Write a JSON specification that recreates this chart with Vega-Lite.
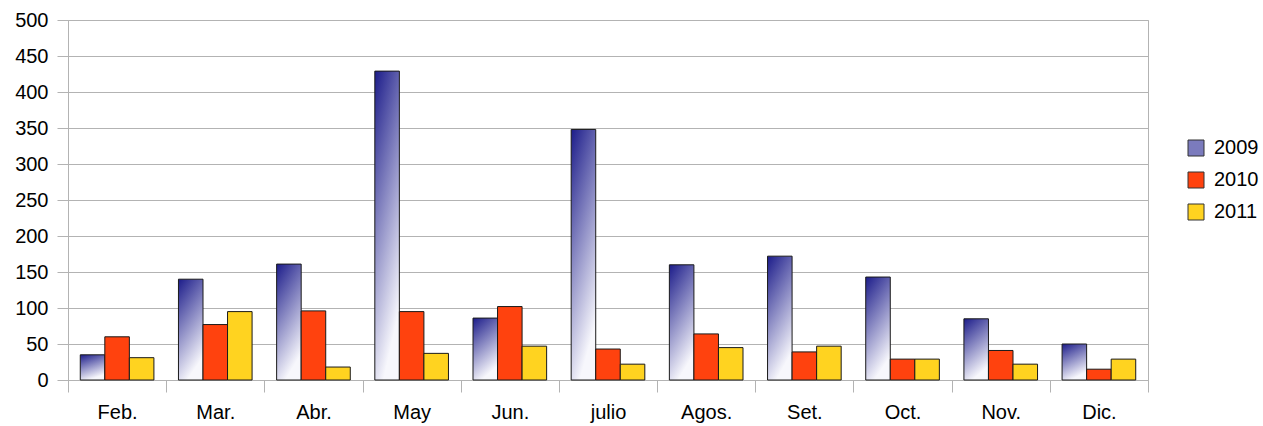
{
  "$schema": "https://vega.github.io/schema/vega-lite/v6.json",
  "autosize": "none",
  "width": 1080,
  "height": 360,
  "padding": {"left": 68, "top": 20, "right": 115, "bottom": 46},
  "background": "white",
  "config": {
    "font": "Liberation Sans",
    "view": {"stroke": "#b3b3b3", "strokeWidth": 1}
  },
  "data": {
    "values": [
      {"mes": "Feb.", "anio": "2009", "valor": 35},
      {"mes": "Feb.", "anio": "2010", "valor": 60},
      {"mes": "Feb.", "anio": "2011", "valor": 31},
      {"mes": "Mar.", "anio": "2009", "valor": 140},
      {"mes": "Mar.", "anio": "2010", "valor": 77},
      {"mes": "Mar.", "anio": "2011", "valor": 95},
      {"mes": "Abr.", "anio": "2009", "valor": 161},
      {"mes": "Abr.", "anio": "2010", "valor": 96},
      {"mes": "Abr.", "anio": "2011", "valor": 18},
      {"mes": "May", "anio": "2009", "valor": 429},
      {"mes": "May", "anio": "2010", "valor": 95},
      {"mes": "May", "anio": "2011", "valor": 37},
      {"mes": "Jun.", "anio": "2009", "valor": 86},
      {"mes": "Jun.", "anio": "2010", "valor": 102},
      {"mes": "Jun.", "anio": "2011", "valor": 47},
      {"mes": "julio", "anio": "2009", "valor": 348},
      {"mes": "julio", "anio": "2010", "valor": 43},
      {"mes": "julio", "anio": "2011", "valor": 22},
      {"mes": "Agos.", "anio": "2009", "valor": 160},
      {"mes": "Agos.", "anio": "2010", "valor": 64},
      {"mes": "Agos.", "anio": "2011", "valor": 45},
      {"mes": "Set.", "anio": "2009", "valor": 172},
      {"mes": "Set.", "anio": "2010", "valor": 39},
      {"mes": "Set.", "anio": "2011", "valor": 47},
      {"mes": "Oct.", "anio": "2009", "valor": 143},
      {"mes": "Oct.", "anio": "2010", "valor": 29},
      {"mes": "Oct.", "anio": "2011", "valor": 29},
      {"mes": "Nov.", "anio": "2009", "valor": 85},
      {"mes": "Nov.", "anio": "2010", "valor": 41},
      {"mes": "Nov.", "anio": "2011", "valor": 22},
      {"mes": "Dic.", "anio": "2009", "valor": 50},
      {"mes": "Dic.", "anio": "2010", "valor": 15},
      {"mes": "Dic.", "anio": "2011", "valor": 29}
    ]
  },
  "mark": {"type": "bar", "stroke": "#1a1a1a", "strokeWidth": 1},
  "encoding": {
    "x": {
      "field": "mes",
      "type": "nominal",
      "sort": null,
      "scale": {"paddingInner": 0, "paddingOuter": 0},
      "axis": {
        "title": null,
        "labelAngle": 0,
        "labelFontSize": 20,
        "labelColor": "#000000",
        "labelPadding": 10,
        "tickBand": "extent",
        "tickSize": 12,
        "tickColor": "#b3b3b3",
        "domainColor": "#b3b3b3",
        "grid": false
      }
    },
    "xOffset": {
      "field": "anio",
      "type": "nominal",
      "scale": {"paddingInner": 0, "paddingOuter": 0.5}
    },
    "y": {
      "field": "valor",
      "type": "quantitative",
      "scale": {"domain": [0, 500], "nice": false},
      "axis": {
        "title": null,
        "values": [0, 50, 100, 150, 200, 250, 300, 350, 400, 450, 500],
        "labelFontSize": 20,
        "labelColor": "#000000",
        "labelPadding": 9,
        "tickSize": 11,
        "tickColor": "#b3b3b3",
        "domainColor": "#b3b3b3",
        "gridColor": "#b3b3b3",
        "gridOpacity": 1
      }
    },
    "color": {
      "condition": {
        "test": "datum.anio === '2009'",
        "value": {"gradient": "linear", "x1": 0, "y1": 0, "x2": 0.35, "y2": 1, "stops": [{"offset": 0, "color": "#1c1c8a"}, {"offset": 1, "color": "#f7f7fc"}]}
      },
      "field": "anio",
      "type": "nominal",
      "scale": {
        "domain": ["2009", "2010", "2011"],
        "range": ["#7b7bbd", "#ff420e", "#ffd320"]
      },
      "legend": {
        "title": null,
        "orient": "none",
        "legendX": 1118,
        "legendY": 118,
        "padding": 0,
        "symbolType": "square",
        "symbolSize": 256,
        "symbolStrokeColor": "#333333",
        "symbolStrokeWidth": 1,
        "symbolOpacity": 1,
        "labelFontSize": 20,
        "labelColor": "#000000",
        "labelOffset": 8,
        "rowPadding": 12
      }
    }
  }
}
